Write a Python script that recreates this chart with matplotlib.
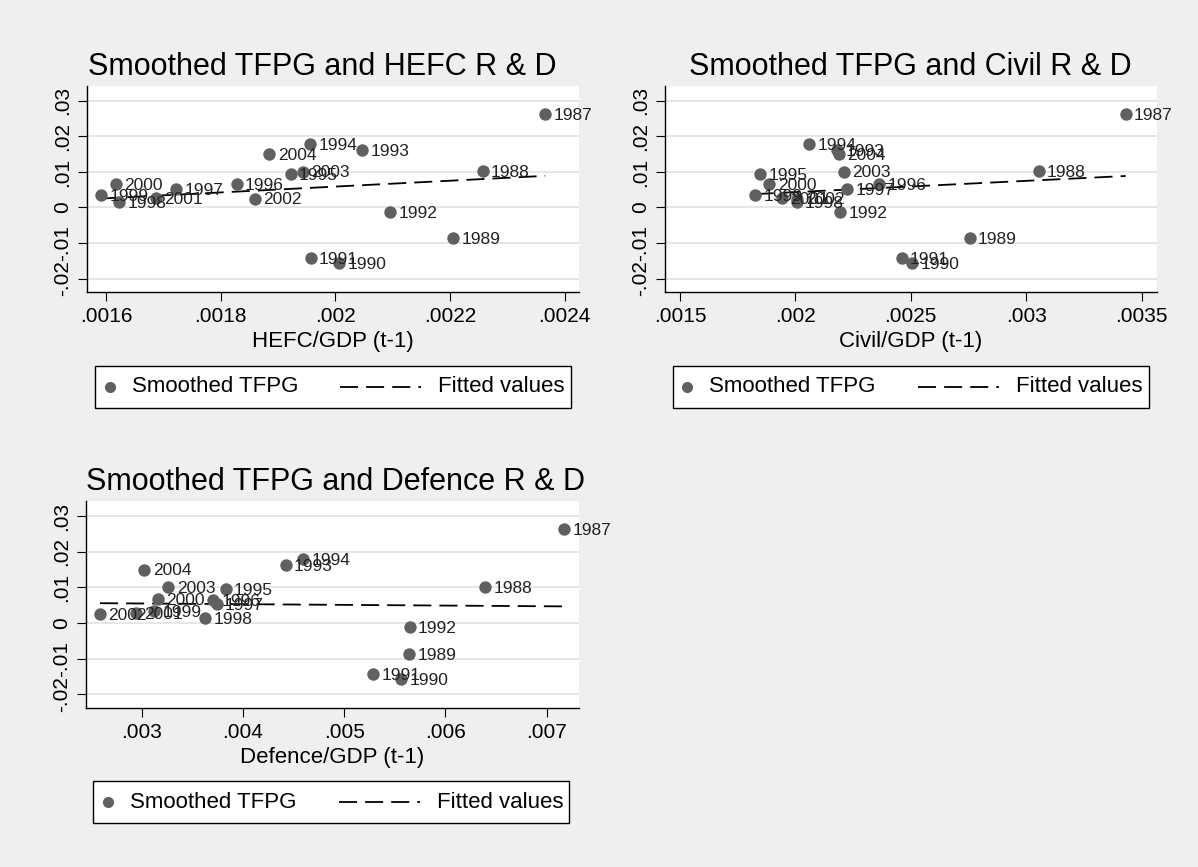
import numpy as np
import matplotlib
matplotlib.use("Agg")
import matplotlib.pyplot as plt
from matplotlib.patches import Rectangle
from matplotlib.lines import Line2D

plt.rcParams['font.family'] = ['Liberation Sans', 'DejaVu Sans']
plt.rcParams['lines.scale_dashes'] = False

# values
years = [1987, 1988, 1989, 1990, 1991, 1992, 1993, 1994, 1995,
         1996, 1997, 1998, 1999, 2000, 2001, 2002, 2003, 2004]
tfpg = [0.0264, 0.0102, -0.0087, -0.0157, -0.0142, -0.0012, 0.0162, 0.0179, 0.0095,
        0.0065, 0.0053, 0.0015, 0.0034, 0.0067, 0.0027, 0.0025, 0.0101, 0.0150]
hefc = [0.002366, 0.002257, 0.002206, 0.002007, 0.001957, 0.002096, 0.002047, 0.001956, 0.001922,
        0.001828, 0.001722, 0.001623, 0.001592, 0.001617, 0.001687, 0.001860, 0.001944, 0.001885]
civil = [0.003431, 0.003054, 0.002755, 0.002505, 0.002460, 0.002194, 0.002180, 0.002061, 0.001847,
         0.002362, 0.002223, 0.002005, 0.001827, 0.001887, 0.001942, 0.002009, 0.002209, 0.002187]
defence = [0.007172, 0.006392, 0.005639, 0.005563, 0.005290, 0.005648, 0.004421, 0.004595, 0.003829,
           0.003707, 0.003740, 0.003628, 0.003125, 0.003164, 0.002944, 0.002588, 0.003263, 0.003026]

y_ticks = [-0.02, -0.01, 0, 0.01, 0.02, 0.03]
y_ticklabels = ['-.02', '-.01', '0', '.01', '.02', '.03']
hefc_ticks = [0.0016, 0.0018, 0.002, 0.0022, 0.0024]
hefc_ticklabels = ['.0016', '.0018', '.002', '.0022', '.0024']
civil_ticks = [0.0015, 0.002, 0.0025, 0.003, 0.0035]
civil_ticklabels = ['.0015', '.002', '.0025', '.003', '.0035']
defence_ticks = [0.003, 0.004, 0.005, 0.006, 0.007]
defence_ticklabels = ['.003', '.004', '.005', '.006', '.007']

W, H = 1198, 867
BG = '#efefef'
MARKER = '#606060'
DASH = (0, (13, 5.8))


def px(x, y):
    # pixel (top-left origin) -> figure fraction
    return x / W, 1 - y / H


def panel(fig, box, x, xlim, ticks, ticklabels, title, title_pos, xlabel, xlabel_y):
    left, top, right, bottom = box
    ax = fig.add_axes([left / W, 1 - bottom / H, (right - left) / W, (bottom - top) / H])
    ax.set_facecolor('white')
    for s in ['top', 'right']:
        ax.spines[s].set_visible(False)
    for s in ['left', 'bottom']:
        ax.spines[s].set_linewidth(1.0)
    ax.set_ylim(-0.0238, 0.0342)
    ax.set_xlim(*xlim)
    ax.set_yticks(y_ticks)
    ax.set_yticklabels(y_ticklabels, rotation=90, va='center')
    ax.set_xticks(ticks)
    ax.set_xticklabels(ticklabels)
    ax.tick_params(direction='out', length=6.5, width=0.8, labelsize=15)
    ax.tick_params(axis='y', pad=4)
    ax.tick_params(axis='x', pad=4)
    ax.grid(axis='y', color='#e4e4e4', linewidth=1.3)
    ax.set_axisbelow(True)

    xs = np.array(x)
    ys = np.array(tfpg)
    ax.scatter(xs, ys, s=80, color=MARKER, zorder=3, linewidths=0)
    for xi, yi, yr in zip(xs, ys, years):
        ax.annotate(str(yr), (xi, yi), xytext=(6, -1), textcoords='offset points',
                    ha='left', va='center', fontsize=12.5, color='#222222', zorder=4)

    b, a = np.polyfit(xs, ys, 1)
    xf = np.array([xs.min(), xs.max()])
    ax.plot(xf, a + b * xf, color='black', linewidth=1.3, linestyle=DASH, zorder=2)

    tx, ty = px(*title_pos)
    fig.text(tx, ty, title, ha='center', va='baseline', fontsize=22)
    lx, ly = px((left + right) / 2, xlabel_y)
    fig.text(lx, ly, xlabel, ha='center', va='center', fontsize=16)
    return ax


def legend_box(fig, x0, y0, y1):
    x1 = x0 + 476
    fx, fy = px(x0, y1)
    fig.patches.append(Rectangle((fx, fy), (x1 - x0) / W, (y1 - y0) / H,
                                 transform=fig.transFigure, facecolor='white',
                                 edgecolor='black', linewidth=1.0))
    ym = (y0 + y1) / 2
    mxf, myf = px(x0 + 14.5, ym)
    fig.lines.append(Line2D([mxf], [myf], marker='o', markersize=8, color=MARKER,
                            markeredgewidth=0, transform=fig.transFigure))
    tx, ty = px(x0 + 36.5, ym)
    fig.text(tx, ty, 'Smoothed TFPG', ha='left', va='center', fontsize=16)
    a0, ay = px(x0 + 245.5, ym)
    a1, _ = px(x0 + 326, ym)
    fig.lines.append(Line2D([a0, a1], [ay, ay], color='black', linewidth=1.3,
                            linestyle=DASH, transform=fig.transFigure))
    tx, ty = px(x0 + 343.5, ym)
    fig.text(tx, ty, 'Fitted values', ha='left', va='center', fontsize=16)


fig = plt.figure(figsize=(W / 100, H / 100), dpi=100, facecolor=BG)

panel(fig, (87, 86, 579, 292), hefc, (0.001567, 0.002425), hefc_ticks, hefc_ticklabels,
      'Smoothed TFPG and HEFC R & D', (322, 75), 'HEFC/GDP (t-1)', 342)
panel(fig, (665, 86, 1157, 292), civil, (0.001435, 0.003567), civil_ticks, civil_ticklabels,
      'Smoothed TFPG and Civil R & D', (910, 75), 'Civil/GDP (t-1)', 342)
panel(fig, (86, 501, 579, 708), defence, (0.00245, 0.00732), defence_ticks, defence_ticklabels,
      'Smoothed TFPG and Defence R & D', (336, 490), 'Defence/GDP (t-1)', 757)

legend_box(fig, 95, 366, 408)
legend_box(fig, 672.5, 366, 408)
legend_box(fig, 93.5, 781, 823)

fig.savefig('out.png', dpi=100, facecolor=BG)
